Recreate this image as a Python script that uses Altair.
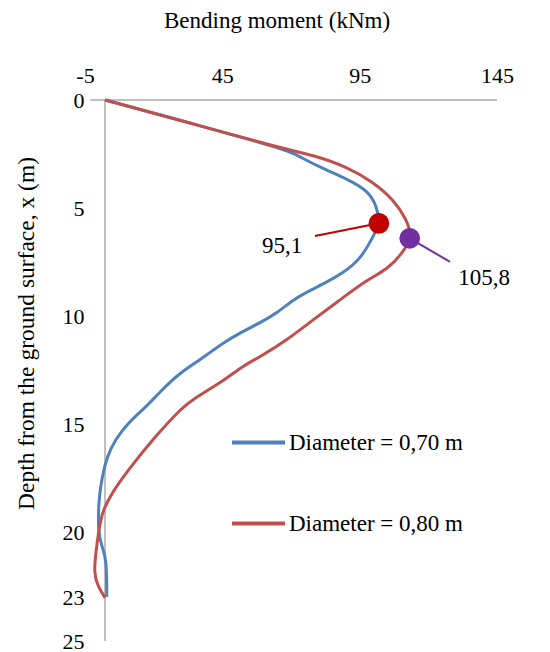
import altair as alt
import pandas as pd

# ---------------- data ----------------
x_ticks = [-5, 45, 95, 145]
y_ticks = [0, 5, 10, 15, 20, 23, 25]

series = ["Diameter = 0,70 m", "Diameter = 0,80 m"]
series_colors = ["#4F81BD", "#C0504D"]

blue_depth = [0, 1.06, 2.22, 2.45, 3.05, 3.70, 4.20, 4.90, 5.70, 6.37, 7.39, 7.99, 8.41,
              8.87, 9.24, 9.84, 10.30, 10.76, 11.22, 12.01, 12.61, 13.39, 14.23, 14.92,
              15.70, 16.49, 17.41, 18.34, 19.10, 19.90, 20.63, 21.20, 22.96]
blue_moment = [0, 29.5, 60.8, 65.5, 73.5, 85.0, 91.3, 94.4, 95.4, 92.9, 88.5, 82.6, 77.1,
               70.1, 65.3, 59.7, 53.8, 46.9, 41.0, 33.0, 26.0, 19.8, 13.9, 8.0,
               3.5, 0.7, -1.0, -2.0, -2.3, -2.3, -1.2, 0.6, 0.6]

red_depth = [0, 1.06, 2.22, 2.54, 3.09, 3.79, 4.62, 5.54, 6.00, 6.39, 7.02, 7.85, 8.31,
             9.24, 10.16, 11.09, 11.87, 12.32, 12.93, 13.86, 14.24, 15.55, 17.09, 18.17,
             18.94, 19.50, 20.60, 21.90, 22.50, 23.00]
red_moment = [0, 29.5, 60.8, 72.2, 84.0, 93.1, 100.3, 104.7, 105.8, 106.0, 103.7, 97.9, 90.9,
              81.6, 72.2, 63.2, 53.8, 47.5, 41.7, 30.1, 26.6, 17.4, 8.1, 2.3,
              -0.6, -1.7, -2.9, -4.0, -2.3, 0.0]

peak_moment = [95.1, 105.8]
peak_depth = [5.70, 6.39]
peak_text = ["95,1", "105,8"]
peak_colors = ["#C00000", "#7030A0"]
leader_moment = [72.9, 119.8]
leader_depth = [6.28, 7.48]
label_moment = [61.5, 131.6]
label_depth = [7.07, 8.55]

# ---------------- tables ----------------
rows = []
for name, ds, ms in [(series[0], blue_depth, blue_moment), (series[1], red_depth, red_moment)]:
    for i, (d, m) in enumerate(zip(ds, ms)):
        rows.append({"series": name, "depth": d, "moment": m, "i": i})
curves = pd.DataFrame(rows)

peaks = pd.DataFrame({
    "moment": peak_moment, "depth": peak_depth, "text": peak_text, "c": peak_colors,
    "m2": leader_moment, "d2": leader_depth,
    "lm": label_moment, "ld": label_depth,
})
ticks_df = pd.DataFrame({"t": x_ticks})

FONT = "Liberation Serif"
GRAY = "#BFBFBF"

x_scale = alt.Scale(domain=[-6.94, 136.1], nice=False, zero=False)
y_scale = alt.Scale(domain=[0, 25], reverse=True, nice=False, zero=False)

y_axis = alt.Axis(
    values=y_ticks, domain=False, ticks=False, tickSize=0, grid=False,
    labelPadding=1, labelFont=FONT, labelFontSize=22, labelColor="black",
    labelFlush=False, labelExpr="'' + datum.value",
    title="Depth from the ground surface, x (m)", titleFont=FONT, titleFontSize=23.5,
    titleFontWeight="normal", titleColor="black", titleAngle=270,
    titleX=-52, titleY=233, titleAlign="center", titleBaseline="alphabetic",
)

def X(field):
    return alt.X(field, type="quantitative", scale=x_scale, axis=None)

def Y(field):
    return alt.Y(field, type="quantitative", scale=y_scale, axis=y_axis)

# axis-only layer (displayed tick labels)
axis_layer = alt.Chart(ticks_df).mark_point(opacity=0).encode(
    x=alt.X("t:Q", scale=alt.Scale(domain=[-5, 145], nice=False, zero=False),
            axis=alt.Axis(orient="top", values=x_ticks, domain=False, ticks=False,
                          tickSize=0, grid=False, labelPadding=18, labelFlush=False,
                          labelExpr="'' + datum.value",
                          labelBaseline="alphabetic", labelFont=FONT, labelFontSize=22,
                          labelColor="black", title="Bending moment (kNm)",
                          titleFont=FONT, titleFontSize=23, titleFontWeight="normal",
                          titleColor="black", titleX=191.5, titleY=-73,
                          titleAlign="center", titleBaseline="alphabetic")),
    y=alt.value(0),
)

top_line = alt.Chart(ticks_df).mark_rule(color=GRAY, strokeWidth=1.5).encode(
    x=alt.X(datum=-5, scale=x_scale, axis=None),
    x2=alt.datum(136.1),
    y=alt.Y(datum=0, scale=y_scale, axis=y_axis),
)
left_line = alt.Chart(ticks_df).mark_rule(color=GRAY, strokeWidth=1.5).encode(
    x=alt.X(datum=0, scale=x_scale, axis=None),
    y=alt.Y(datum=0, scale=y_scale, axis=y_axis),
    y2=alt.datum(25),
)

lines = alt.Chart(curves).mark_line(strokeWidth=3, interpolate="basis").encode(
    x=X("moment"),
    y=Y("depth"),
    order="i:Q",
    color=alt.Color("series:N", scale=alt.Scale(domain=series, range=series_colors),
                    legend=alt.Legend(orient="none", legendX=145, legendY=314,
                                      title=None, symbolType="stroke", symbolSize=2809,
                                      symbolStrokeWidth=4, labelFont=FONT,
                                      labelFontSize=23, labelColor="black",
                                      rowPadding=40, labelOffset=2, labelLimit=400)),
)

leaders = alt.Chart(peaks).mark_rule(strokeWidth=2).encode(
    x=X("moment"), x2="m2", y=Y("depth"), y2="d2",
    color=alt.Color("c:N", scale=None),
)

dots = alt.Chart(peaks).mark_circle(size=430, opacity=1).encode(
    x=X("moment"), y=Y("depth"), color=alt.Color("c:N", scale=None),
)

labels = alt.Chart(peaks).mark_text(font=FONT, fontSize=23, align="center",
                                    baseline="alphabetic", color="black").encode(
    x=X("lm"), y=Y("ld"), text="text:N",
)

data_layer = alt.layer(top_line, left_line, lines, leaders, dots, labels)

chart = alt.layer(axis_layer, data_layer).resolve_scale(x="independent").properties(
    width=412, height=541,
    autosize=alt.AutoSizeParams(type="none"),
    padding={"left": 77, "top": 92, "right": 45, "bottom": 10},
).configure_view(stroke=None).configure_axis(
    labelFont=FONT, titleFont=FONT
).configure_text(font=FONT).configure_legend(labelFont=FONT)

chart.save("out.html", embed_options={"renderer": "svg", "actions": False})
